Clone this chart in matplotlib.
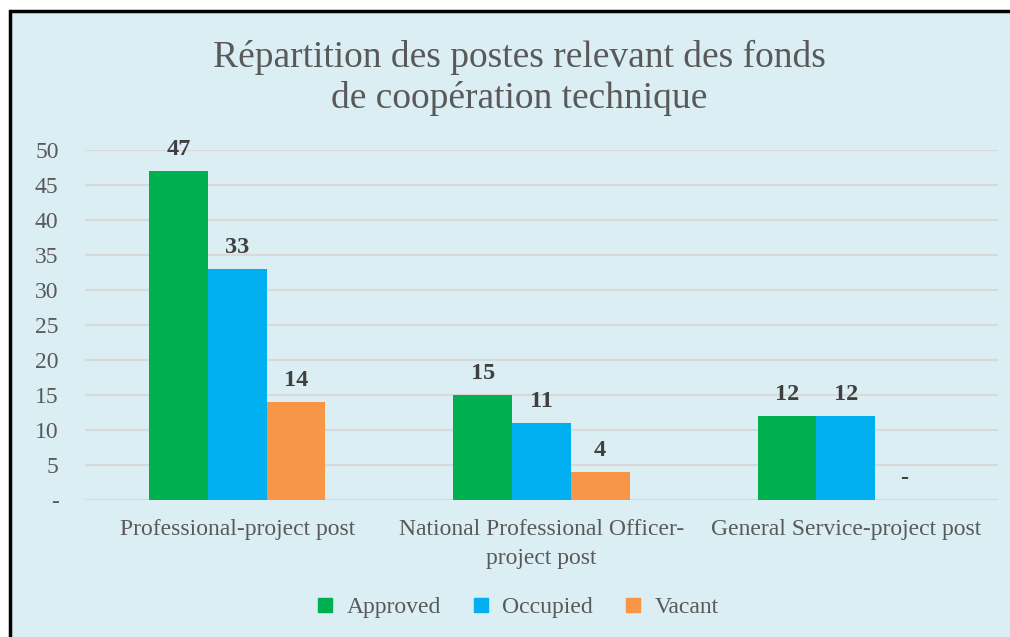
import matplotlib.pyplot as plt
from matplotlib.patches import Rectangle
from matplotlib.lines import Line2D

categories = ["Professional-project post",
              "National Professional Officer-\nproject post",
              "General Service-project post"]
series = ["Approved", "Occupied", "Vacant"]
approved = [47, 15, 12]
occupied = [33, 11, 12]
vacant = [14, 4, 0]
colors = ["#00B050", "#00B0F0", "#F79646"]

W, H = 1010, 637
fig = plt.figure(figsize=(W / 100, H / 100), dpi=100)
fig.patch.set_facecolor("white")

# chart frame
fig.patches.append(Rectangle((10 / W, -0.05), 1.2, (H - 11) / H + 0.05,
                             transform=fig.transFigure, facecolor="#DAEEF3",
                             edgecolor="black", linewidth=2.5, zorder=-5))

ax = fig.add_axes([85 / W, (H - 500) / H, (998 - 85) / W, 350 / H])
ax.set_facecolor("none")
ax.set_zorder(2)

width = 0.193
values = [approved, occupied, vacant]
for i, (name, vals, col) in enumerate(zip(series, values, colors)):
    xs = [c + (i - 1) * width for c in range(len(categories))]
    ax.bar(xs, vals, width, color=col, zorder=3, label=name)
    for x, v in zip(xs, vals):
        ax.annotate(str(v) if v else "-", (x, v), xytext=(0, 8),
                    textcoords="offset points", ha="center", va="bottom",
                    fontsize=17.5, fontweight="bold", color="#404040",
                    family="Liberation Serif", annotation_clip=False)

ax.set_xlim(-0.5, 2.5)
ax.set_ylim(0, 50)
ax.set_yticks(range(0, 51, 5))
ax.set_yticklabels(["-"] + [str(t) for t in range(5, 51, 5)])
ax.set_xticks(range(len(categories)))
ax.set_xticklabels(categories, linespacing=1.45)
ax.grid(axis="y", color="#D9D9D9", linewidth=1.5, zorder=0)
for s in ax.spines.values():
    s.set_visible(False)
ax.tick_params(axis="both", length=0, labelsize=17, labelcolor="#595959")
ax.tick_params(axis="y", pad=19)
ax.tick_params(axis="x", pad=14)
for lab in ax.get_xticklabels() + ax.get_yticklabels():
    lab.set_family("Liberation Serif")

fig.text(519 / W, 1 - 78 / H,
         "Répartition des postes relevant des fonds\nde coopération technique",
         ha="center", va="center", fontsize=27, color="#595959",
         family="Liberation Serif", linespacing=1.22)

handles = [Line2D([], [], marker="s", linestyle="none", markersize=10,
                  markerfacecolor=c, markeredgecolor=c) for c in colors]
fig.legend(handles, series, loc="center", bbox_to_anchor=(517 / W, 1 - 607 / H),
           ncol=3, frameon=False, handlelength=0.8, handletextpad=0.5,
           columnspacing=1.3, prop={"family": "Liberation Serif", "size": 17},
           labelcolor="#595959")

fig.savefig("out.png", dpi=100)
